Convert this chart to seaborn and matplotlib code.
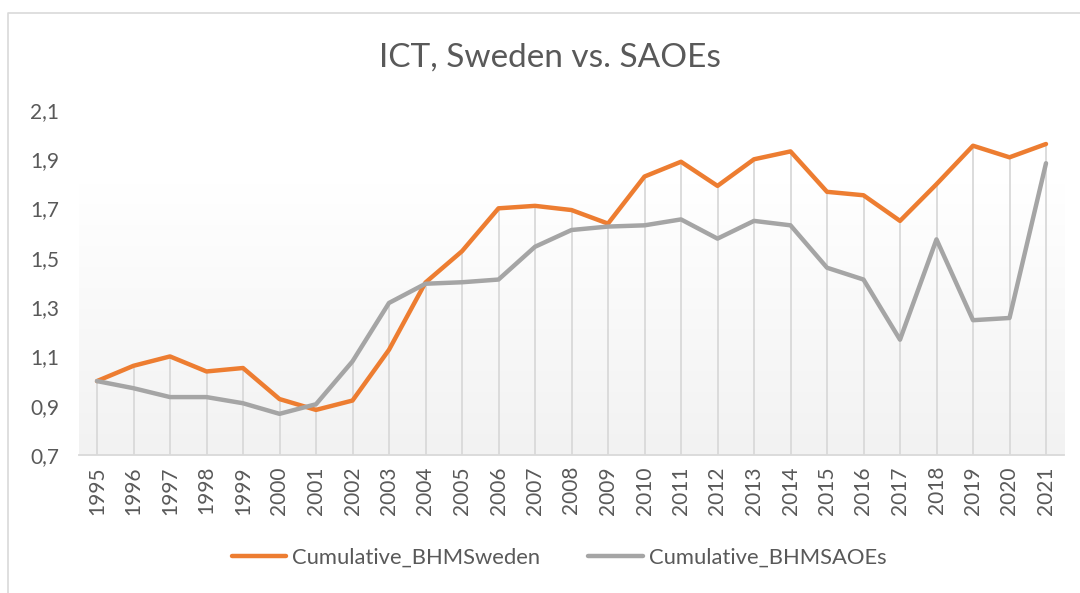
import numpy as np
import pandas as pd
import matplotlib
matplotlib.use("Agg")
import matplotlib.pyplot as plt
from matplotlib.lines import Line2D
from matplotlib.ticker import FuncFormatter
import seaborn as sns

# --- Dados ---
years = list(range(1995, 2022))
sweden = [1.000, 1.062, 1.100, 1.039, 1.053, 0.927, 0.883, 0.921, 1.127, 1.400,
          1.527, 1.701, 1.711, 1.694, 1.639, 1.830, 1.890, 1.792, 1.900, 1.932,
          1.768, 1.754, 1.650, 1.799, 1.955, 1.908, 1.962]
saoes = [1.000, 0.971, 0.935, 0.935, 0.910, 0.867, 0.906, 1.080, 1.317, 1.395,
         1.401, 1.412, 1.545, 1.613, 1.627, 1.632, 1.656, 1.578, 1.650, 1.632,
         1.460, 1.412, 1.168, 1.575, 1.247, 1.256, 1.884]
series_names = ["Cumulative_BHMSweden", "Cumulative_BHMSAOEs"]
title = "ICT, Sweden vs. SAOEs"

TEXT = "#595959"
COLORS = ["#ED7D31", "#A5A5A5"]

df = pd.DataFrame({
    "pos": list(range(len(years))) * 2,
    "value": sweden + saoes,
    "serie": [series_names[0]] * len(years) + [series_names[1]] * len(years),
})

sns.set_theme(style="white")
plt.rcParams["font.family"] = ["Lato", "DejaVu Sans"]

fig = plt.figure(figsize=(10.8, 5.93), dpi=100)
ax = fig.add_axes([78.75 / 1080, (593 - 455) / 593, (1064.25 - 78.75) / 1080, (455 - 110) / 593])

# moldura do gráfico (só esquerda e topo visíveis)
fig.lines.append(Line2D([7.5 / 1080, 7.5 / 1080, 1.0], [0.0, 1 - 12.5 / 593, 1 - 12.5 / 593],
                        transform=fig.transFigure, color="#d9d9d9", lw=1.2))

# fundo com degradê (branco -> cinza claro)
grad = np.linspace(0, 1, 256).reshape(-1, 1)
cmap = matplotlib.colors.LinearSegmentedColormap.from_list("g", ["#f2f2f2", "#ffffff"])
ax.imshow(grad, extent=(-0.5, len(years) - 0.5, 0.7, 1.8), origin="lower", cmap=cmap,
          aspect="auto", zorder=0)

# linhas de queda
pos = np.arange(len(years))
ax.vlines(pos, 0.7, np.maximum(sweden, saoes), color="#d9d9d9", lw=1.3, zorder=1)

sns.lineplot(data=df, x="pos", y="value", hue="serie", palette=COLORS, lw=3.2, ax=ax,
             zorder=3, legend=True)

ax.set_xlim(-0.5, len(years) - 0.5)
ax.set_ylim(0.7, 2.1)
ax.set_yticks(np.arange(0.7, 2.11, 0.2))
ax.yaxis.set_major_formatter(FuncFormatter(lambda v, p: f"{v:.1f}".replace(".", ",")))
ax.set_xticks(pos)
ax.set_xticklabels([str(y) for y in years], rotation=90)
ax.tick_params(axis="both", length=0, labelsize=15, colors=TEXT)
ax.tick_params(axis="x", pad=8)
ax.tick_params(axis="y", pad=14)
ax.set_xlabel("")
ax.set_ylabel("")
for s in ["top", "right", "left"]:
    ax.spines[s].set_visible(False)
ax.spines["bottom"].set_color("#d9d9d9")
ax.spines["bottom"].set_linewidth(1.3)
ax.grid(False)
ax.set_facecolor("none")

fig.text(550 / 1080, 1 - 58 / 593, title, ha="center", va="center", fontsize=24, color=TEXT)

handles, labels = ax.get_legend_handles_labels()
ax.legend(handles, labels, loc="center", bbox_to_anchor=(559 / 1080, (593 - 558) / 593),
          bbox_transform=fig.transFigure, ncol=2, frameon=False, fontsize=15.8,
          labelcolor=TEXT, handlelength=2.5, columnspacing=2.2, handletextpad=0.25)

fig.savefig("out.png", dpi=100)
